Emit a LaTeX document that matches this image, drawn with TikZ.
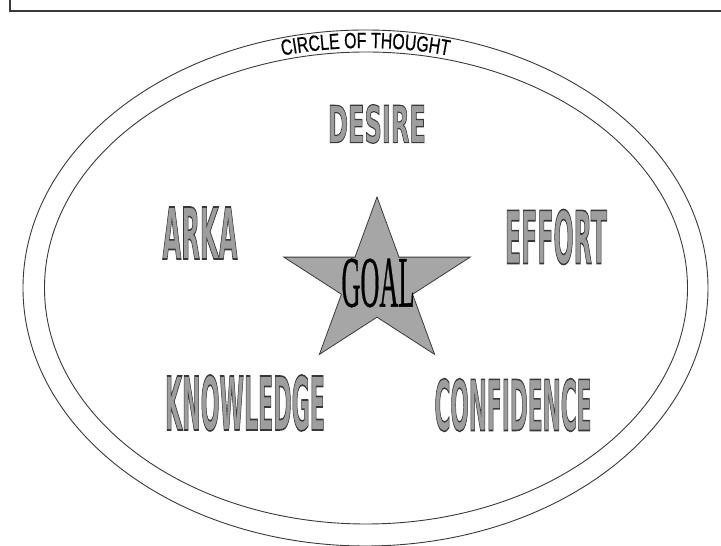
\documentclass[tikz,border=0pt]{standalone}
\usepackage{fontspec}
\usetikzlibrary{decorations.text}
\newfontfamily\waoutline{DejaVu Sans Bold}[FakeBold=2.2]
\newfontfamily\cotfont{Liberation Sans}[FakeStretch=0.72,FakeBold=0.6]
\newfontfamily\goalfont{Liberation Serif}[FakeBold=0.8]
\definecolor{linegray}{HTML}{3A3A3A}
\definecolor{stargray}{HTML}{A6A6A6}
\newcommand{\wordart}[3]{\resizebox{#1pt}{#2pt}{\special{pdf:bcolor [0.62] [0.22]}\waoutline #3\special{pdf:ecolor}}}
\tikzset{
  frameline/.style={line width=1.8pt, linegray},
  ring/.style={line width=0.9pt, linegray},
  wa/.style={inner sep=0pt, outer sep=0pt},
  starshape/.style={fill=stargray, draw=linegray, line width=0.8pt, line join=miter}
}
\begin{document}
\begin{tikzpicture}[x=1pt,y=1pt]
\useasboundingbox (0,0) rectangle (721,546);
\fill[white] (0,0) rectangle (721,546);
% frame (top and left edges)
\draw[frameline] (10,546) -- (10,535) -- (721,535);
% rings
\draw[ring] (365.5,258) ellipse [x radius=342.5, y radius=258];
\draw[ring] (366,258) ellipse [x radius=321.5, y radius=236];
% title along arc
\path[decorate, decoration={text along path, text align=center,
  text format delimiters={|}{|},
  text={|\cotfont\fontsize{22}{22}\selectfont|CIRCLE OF THOUGHT}}]
  (365.5,258) ++(118:332 and 240) arc[start angle=118, end angle=62, x radius=332, y radius=240];
% star
\begin{scope}[shift={(377,262)}]
\draw[starshape] (90:98 and 87)
  -- (126:37.4 and 33.2) -- (162:98 and 87)
  -- (198:37.4 and 33.2) -- (234:98 and 87)
  -- (270:37.4 and 33.2) -- (306:98 and 87)
  -- (342:37.4 and 33.2) -- (18:98 and 87)
  -- (54:37.4 and 33.2) -- cycle;
\end{scope}
% words
\node[wa] (desire) at (377,422) {\wordart{98}{38}{DESIRE}};
\node[wa] (arka) at (200,313) {\wordart{75}{52}{ARKA}};
\node[wa] (effort) at (556,309) {\wordart{102}{54}{EFFORT}};
\node[wa] (knowledge) at (245,143) {\wordart{160}{55}{KNOWLEDGE}};
\node[wa] (confidence) at (513,141) {\wordart{157}{52}{CONFIDENCE}};
\node[wa] (goal) at (378,263) {\resizebox{73pt}{48pt}{\goalfont GOAL}};
\end{tikzpicture}
\end{document}
